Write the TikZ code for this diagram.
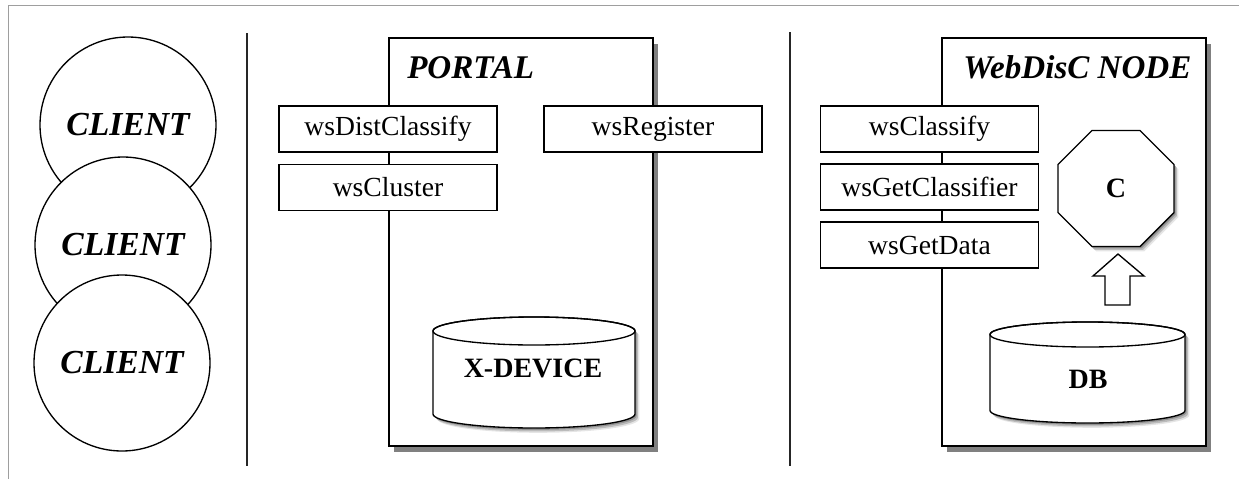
\documentclass[tikz,border=0pt]{standalone}
\usepackage{fontspec}
\setmainfont{Liberation Serif}
\usetikzlibrary{shapes.geometric,shadows}
\tikzset{
  frameline/.style={draw=black!38, line width=0.75pt},
  divider/.style={draw=black!85, line width=1.5pt},
  client/.style={circle, draw, fill=white, line width=1pt, minimum size=132pt, inner sep=0pt,
    font=\fontsize{25.2}{29}\selectfont\bfseries\itshape},
  panel/.style={rectangle, draw, fill=white, line width=1pt, inner sep=0pt,
    minimum width=198pt, minimum height=306pt,
    drop shadow={shadow xshift=3.75pt, shadow yshift=-4.5pt, fill=black!50, opacity=1}},
  paneltitle/.style={anchor=base west, inner sep=0pt, font=\fontsize{24.8}{29}\selectfont\bfseries\itshape},
  svc/.style={rectangle, draw, fill=white, line width=1pt, inner sep=0pt,
    minimum width=163.5pt, minimum height=34.5pt, font=\fontsize{20.7}{24}\selectfont},
  softshadow/.style={
    preaction={fill=black, opacity=.22, transform canvas={shift={(1.2pt,-1.4pt)}}},
    preaction={fill=black, opacity=.18, transform canvas={shift={(2.2pt,-2.6pt)}}},
    preaction={fill=black, opacity=.10, transform canvas={shift={(3.2pt,-3.6pt)}}}},
  store/.style={draw, fill=white, line width=1pt},
  boldlabel/.style={inner sep=0pt, font=\fontsize{21}{24}\selectfont\bfseries},
}
\begin{document}
\begin{tikzpicture}[x=0.75pt,y=0.75pt]
\useasboundingbox (0,0) rectangle (1239,-479);

% outer frame
\draw[frameline] (1239,-5) -- (8,-5) -- (8,-479);

% column separators
\draw[divider] (247,-33) -- (247,-466);
\draw[divider] (790,-32) -- (790,-466);

% clients
\node[client] (client1) at (128,-125) {CLIENT};
\node[client] (client2) at (123,-245) {CLIENT};
\node[client] (client3) at (122,-363) {CLIENT};

% portal
\node[panel] (portal) at (521,-242) {};
\node[paneltitle] (portaltitle) at (407,-78) {PORTAL};
\node[svc] (distclassify) at (388,-129) {wsDistClassify};
\node[svc] (cluster) at (388,-187.5) {wsCluster};
\node[svc] (register) at (653,-129) {wsRegister};

% X-DEVICE store
\path[store, softshadow] (433,-331) -- (433,-414)
  arc[start angle=180, end angle=360, x radius=75.75pt, y radius=10.5pt]
  -- (635,-331)
  arc[start angle=0, end angle=180, x radius=75.75pt, y radius=10.5pt] -- cycle;
\draw[line width=1pt] (534,-331) ellipse[x radius=75.75pt, y radius=10.5pt];
\node[boldlabel] (xdevice) at (533,-368) {X-DEVICE};

% WebDisC node
\node[panel] (webdisc) at (1074,-242) {};
\node[paneltitle] (webdisctitle) at (963,-78) {WebDisC NODE};
\node[svc] (classify) at (929.5,-129) {wsClassify};
\node[svc] (getclassifier) at (929.5,-187) {wsGetClassifier};
\node[svc] (getdata) at (929.5,-245) {wsGetData};

% classifier
\node[regular polygon, regular polygon sides=8, draw, fill=white, line width=1pt,
  minimum size=94.2pt, inner sep=0pt, softshadow,
  font=\fontsize{21}{24}\selectfont\bfseries] (classifier) at (1116,-188.5) {C};

% DB store
\path[store, softshadow] (990,-334.5) -- (990,-410.5)
  arc[start angle=180, end angle=360, x radius=73.125pt, y radius=9.375pt]
  -- (1185,-334.5)
  arc[start angle=0, end angle=180, x radius=73.125pt, y radius=9.375pt] -- cycle;
\draw[line width=1pt] (1087.5,-334.5) ellipse[x radius=73.125pt, y radius=9.375pt];
\node[boldlabel] (db) at (1088,-379) {DB};

% block arrow from DB up to the classifier
\draw[store] (1105,-305) -- (1105,-276) -- (1093,-276) -- (1118,-254)
  -- (1144,-276) -- (1130,-276) -- (1130,-305) -- cycle;
\end{tikzpicture}
\end{document}
